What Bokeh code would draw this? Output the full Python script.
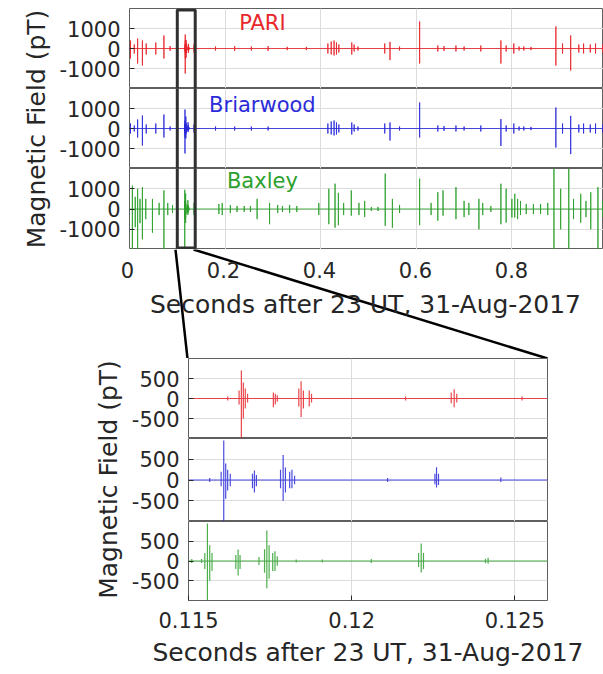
import math
from bokeh.plotting import figure
from bokeh.layouts import column, row
from bokeh.models import FixedTicker, Grid, Label, PolyAnnotation, Range1d
from bokeh.embed import file_html
from bokeh.resources import INLINE

# ---------------- data ----------------
stations = ["PARI", "Briarwood", "Baxley"]
record_span = [0.0, 1.0]

pari_t = [0.002, 0.010, 0.017, 0.027, 0.035, 0.055, 0.072, 0.085,
          0.11620, 0.11655, 0.11662, 0.11668, 0.11674, 0.11681, 0.11760, 0.11766, 0.11772,
          0.11838, 0.11845, 0.11852, 0.11870, 0.11877, 0.12165, 0.12305, 0.12314, 0.12322, 0.12522,
          0.135, 0.180, 0.220, 0.255, 0.290, 0.330, 0.370, 0.415, 0.422, 0.428, 0.433, 0.438,
          0.465, 0.470, 0.478, 0.534, 0.545, 0.565, 0.607, 0.645, 0.658, 0.683, 0.700, 0.735,
          0.777, 0.788, 0.804, 0.815, 0.825, 0.840, 0.892, 0.906, 0.923, 0.940, 0.950, 0.964,
          0.975, 0.990]
pari_up = [400, 200, 500, 400, 250, 300, 650, 120,
           50, 200, 700, 400, 250, 120, 150, 120, 80,
           250, 430, 200, 200, 120, 50, 150, 230, 120, 50,
           200, 100, 120, 100, 120, 80, 80, 250, 350, 400, 300, 200,
           300, 200, 100, 250, 330, 100, 1350, 150, 120, 150, 100, 150,
           400, 150, 250, 100, 100, 80, 1100, 250, 650, 200, 250, 200,
           250, 200]
pari_dn = [500, 250, 750, 850, 300, 300, 500, 120,
           50, 150, 1250, 500, 250, 100, 220, 150, 80,
           200, 460, 250, 200, 100, 50, 120, 220, 100, 50,
           200, 100, 120, 100, 120, 80, 80, 250, 300, 350, 300, 200,
           300, 150, 100, 250, 580, 100, 750, 150, 120, 150, 100, 150,
           750, 150, 250, 100, 100, 80, 850, 250, 1100, 200, 250, 200,
           250, 200]

briar_t = [0.002, 0.010, 0.017, 0.027, 0.035, 0.055, 0.072, 0.085,
           0.11565, 0.11600, 0.11608, 0.11614, 0.11620, 0.11628, 0.11696, 0.11702, 0.11708,
           0.11782, 0.11790, 0.11797, 0.11810, 0.11817, 0.11825, 0.12110, 0.12255, 0.12260,
           0.12266, 0.12457,
           0.135, 0.180, 0.220, 0.255, 0.290, 0.415, 0.422, 0.428, 0.433, 0.438,
           0.465, 0.470, 0.478, 0.534, 0.545, 0.565, 0.607, 0.645, 0.658, 0.683, 0.700, 0.735,
           0.777, 0.788, 0.804, 0.815, 0.825, 0.840, 0.892, 0.906, 0.923, 0.940, 0.950, 0.964,
           0.975, 0.990]
briar_up = [250, 150, 450, 650, 200, 250, 700, 100,
            50, 200, 950, 400, 250, 150, 150, 230, 120,
            250, 600, 300, 200, 250, 100, 50, 150, 310,
            150, 60,
            200, 100, 100, 100, 100, 250, 350, 400, 300, 200,
            300, 200, 100, 250, 300, 100, 1300, 150, 120, 150, 100, 150,
            470, 150, 250, 100, 100, 80, 1050, 250, 630, 200, 250, 200,
            250, 200]
briar_dn = [250, 150, 450, 850, 250, 250, 450, 100,
            50, 150, 1250, 450, 250, 150, 200, 300, 150,
            200, 500, 300, 200, 200, 100, 50, 100, 180,
            120, 50,
            200, 100, 100, 100, 100, 250, 300, 350, 300, 200,
            300, 150, 100, 250, 600, 100, 450, 150, 120, 150, 100, 150,
            870, 150, 250, 100, 100, 80, 950, 250, 1280, 200, 250, 200,
            250, 200]

baxley_t = [0.006, 0.012, 0.017, 0.022, 0.027, 0.034, 0.048, 0.062, 0.072, 0.080, 0.090, 0.100,
            0.11510, 0.11540, 0.11550, 0.11558, 0.11565, 0.11572, 0.11645, 0.11652, 0.11658,
            0.11716, 0.11733, 0.11740, 0.11747, 0.11758, 0.11765, 0.11772, 0.11830, 0.11910,
            0.12060, 0.12205, 0.12213, 0.12220, 0.12410, 0.12418,
            0.135, 0.187, 0.194, 0.211, 0.225, 0.240, 0.253, 0.267, 0.293, 0.310, 0.320, 0.335,
            0.350, 0.396, 0.417, 0.430, 0.437, 0.448, 0.464, 0.480, 0.492, 0.506, 0.520, 0.535,
            0.550, 0.565, 0.607, 0.631, 0.645, 0.656, 0.683, 0.700, 0.710, 0.731, 0.739, 0.756,
            0.777, 0.788, 0.800, 0.806, 0.812, 0.818, 0.830, 0.845, 0.860, 0.875, 0.888, 0.902,
            0.919, 0.929, 0.944, 0.955, 0.965, 0.980, 0.990]
baxley_up = [1150, 600, 1000, 500, 1080, 500, 500, 300, 920, 300, 200, 250,
             50, 50, 200, 950, 400, 200, 150, 290, 150,
             100, 300, 770, 400, 200, 250, 120, 40, 40,
             50, 200, 440, 200, 60, 80,
             300, 250, 300, 200, 150, 150, 150, 500, 300, 200, 150, 200,
             150, 300, 1000, 1250, 800, 300, 920, 300, 400, 100, 100, 1750,
             500, 200, 1500, 300, 830, 920, 1080, 400, 300, 500, 300, 150,
             1250, 1000, 500, 750, 500, 400, 250, 250, 250, 300, 2000, 1000,
             2000, 500, 750, 400, 830, 1080, 400]
baxley_dn = [2000, 900, 2000, 700, 1500, 500, 1170, 300, 2000, 300, 200, 250,
             50, 50, 200, 2000, 500, 250, 200, 370, 200,
             100, 300, 690, 450, 250, 250, 120, 40, 40,
             50, 150, 290, 200, 60, 70,
             300, 250, 300, 200, 150, 150, 150, 500, 750, 200, 150, 200,
             150, 300, 750, 920, 800, 300, 330, 300, 400, 100, 100, 830,
             920, 200, 800, 300, 580, 330, 500, 400, 300, 1000, 300, 150,
             750, 670, 420, 420, 500, 300, 250, 250, 250, 300, 2000, 1000,
             2000, 500, 670, 400, 1000, 2000, 400]

top_xticks = [0, 0.2, 0.4, 0.6, 0.8, 1]
top_xlabels = ["0", "0.2", "0.4", "0.6", "0.8", "1"]
top_yticks = [-1000, 0, 1000]
top_ylabels = ["-1000", "0", "1000"]
zoom_xticks = [0.115, 0.12, 0.125]
zoom_xlabels = ["0.115", "0.12", "0.125"]
zoom_yticks = [-500, 0, 500]
zoom_ylabels = ["-500", "0", "500"]
zoom_window = [0.115, 0.126]
box_window = [0.1, 0.1375]

# ---------------- style / layout ----------------
FONT = "DejaVu Sans"
TXT = "#262626"
GRID = "#dcdcdc"
OUTLINE = "#5f5f5f"
COLORS = ["#e8262b", "#2b2bd9", "#2ca02c"]
XLABEL = "Seconds after 23 UT, 31-Aug-2017"
YLABEL = "Magnetic Field (pT)"
W = 603
TOP_MARGIN = 8

TOP_LABEL_W = 56
TOP_LEFT = 71
TOP_W = W - TOP_LABEL_W
TOP_PX_PER_S = 480.0
top_frame_w = TOP_W - TOP_LEFT
top_frames = [80, 80, 81]
GAP_H = 109                      # connector strip between the two groups
label_y = [1275, 1175, 1375]

Z_LABEL_W = 128
Z_LEFT = 59
Z_W = W - Z_LABEL_W
Z_FRAME_W = 360
Z_RIGHT = Z_W - Z_LEFT - Z_FRAME_W
z_frames = [80, 83, 79]
Z_BOTTOM = 72


def trace(ts, ups, dns):
    ev = sorted(zip(ts, ups, dns))
    xs = [record_span[0]]
    ys = [0]
    for t, u, d in ev:
        xs += [t, t, t, t]
        ys += [0, u, -d, 0]
    xs.append(record_span[1])
    ys.append(0)
    return xs, ys


traces = [trace(pari_t, pari_up, pari_dn),
          trace(briar_t, briar_up, briar_dn),
          trace(baxley_t, baxley_up, baxley_dn)]


def style_axis(ax, ticks, labels, standoff):
    ax.ticker = FixedTicker(ticks=ticks)
    ax.major_label_overrides = dict(zip(ticks, labels))
    ax.major_label_text_font = FONT
    ax.major_label_text_font_size = "21px"
    ax.major_label_text_color = TXT
    ax.major_tick_in = 5
    ax.major_tick_out = 0
    ax.major_tick_line_color = TXT
    ax.axis_line_color = None
    ax.major_label_standoff = standoff


def style_xlabel(xa, standoff):
    xa.axis_label = XLABEL
    xa.axis_label_text_font = FONT
    xa.axis_label_text_font_size = "25px"
    xa.axis_label_text_font_style = "normal"
    xa.axis_label_text_color = TXT
    xa.axis_label_standoff = standoff


def panel(xr, yr, width, frame_h, left, right, top, bottom, xticks, yticks, ylabels, show_x):
    p = figure(width=width, height=frame_h + top + bottom, x_range=xr, y_range=yr,
               output_backend="svg", toolbar_location=None, tools="",
               x_axis_location="below" if show_x else None,
               min_border_left=left, min_border_right=right,
               min_border_top=top, min_border_bottom=bottom)
    p.outline_line_color = OUTLINE
    p.outline_line_width = 1
    p.xgrid.visible = False
    p.ygrid.visible = False
    p.add_layout(Grid(dimension=0, ticker=FixedTicker(ticks=xticks),
                      grid_line_color=GRID), "center")
    p.add_layout(Grid(dimension=1, ticker=FixedTicker(ticks=yticks),
                      grid_line_color=GRID), "center")
    style_axis(p.yaxis[0], yticks, ylabels, 9)
    return p


def ylabel_fig(width, height, frame_top, frame_h, cx):
    f = figure(width=width, height=height, x_range=Range1d(0, width),
               y_range=Range1d(0, height), output_backend="svg",
               toolbar_location=None, tools="", x_axis_location=None,
               y_axis_location=None, min_border=0)
    f.outline_line_color = None
    f.grid.visible = False
    f.add_layout(Label(x=cx, y=height - frame_top - frame_h / 2, text=YLABEL,
                       angle=math.pi / 2, text_align="center", text_baseline="middle",
                       text_font=FONT, text_font_size="25px", text_color=TXT))
    return f


# ---------------- top (full second) ----------------
top_x = Range1d(0, top_frame_w / TOP_PX_PER_S)
top_figs = []
for i in range(3):
    yr = Range1d(-2000, 2000)
    p = panel(top_x, yr, TOP_W, top_frames[i], TOP_LEFT, 0,
              TOP_MARGIN if i == 0 else 0, 0,
              top_xticks, top_yticks, top_ylabels, show_x=False)
    xs, ys = traces[i]
    p.line(xs, ys, line_color=COLORS[i], line_width=1, line_alpha=0.85)
    p.add_layout(Label(x=0.278, y=label_y[i], text=stations[i], text_align="center",
                       text_baseline="middle", text_font=FONT, text_font_size="21px",
                       text_color=COLORS[i]))
    # the zoom box, drawn piecewise through the three stacked panels
    inset = 1.5 * (yr.end - yr.start) / top_frames[i]
    far = 1e5
    if i == 0:
        bys = [-far, yr.end - inset, yr.end - inset, -far]
    elif i == 1:
        bys = [-far, far, far, -far]
    else:
        bys = [far, yr.start + inset, yr.start + inset, far]
    p.add_layout(PolyAnnotation(xs=[box_window[0], box_window[0], box_window[1], box_window[1]],
                                ys=bys, fill_color=None, fill_alpha=0,
                                line_color="#303030", line_alpha=1, line_width=3))
    top_figs.append(p)

# connector strip (full page width): carries the top group's time axis and the
# zoom connector lines, with the same seconds-per-pixel as the panels above.
top_left_page = TOP_LABEL_W + TOP_LEFT
gap_x = Range1d(-top_left_page / TOP_PX_PER_S, top_x.end)
gap = figure(width=W, height=GAP_H, x_range=gap_x, y_range=Range1d(0, 1),
             output_backend="svg", toolbar_location=None, tools="",
             x_axis_location="below", y_axis_location=None, min_border=0)
gap.outline_line_color = None
gap.grid.visible = False
gax = gap.xaxis[0]
style_axis(gax, top_xticks, top_xlabels, 12)
gax.major_tick_in = 0
gax.fixed_location = 1
gax.bounds = (0, top_x.end)
style_xlabel(gax, 9)

zoom_left_page = Z_LABEL_W + Z_LEFT
zl = (zoom_left_page - top_left_page) / TOP_PX_PER_S
zr = (zoom_left_page + Z_FRAME_W - top_left_page) / TOP_PX_PER_S
gap.segment(x0=[box_window[0], box_window[1]], y0=[1, 1], x1=[zl, zr], y1=[0, 0],
            line_color="black", line_width=2.5)

# ---------------- bottom (zoom) ----------------
zoom_x = Range1d(zoom_window[0], zoom_window[1])
zoom_figs = []
for i in range(3):
    p = panel(zoom_x, Range1d(-1000, 1000), Z_W, z_frames[i], Z_LEFT, Z_RIGHT, 0,
              Z_BOTTOM if i == 2 else 0,
              zoom_xticks, zoom_yticks, zoom_ylabels, show_x=(i == 2))
    if i == 2:
        xa = p.xaxis[0]
        style_axis(xa, zoom_xticks, zoom_xlabels, 11)
        style_xlabel(xa, 7)
    xs, ys = traces[i]
    p.line(xs, ys, line_color=COLORS[i], line_width=1.2, line_alpha=0.85)
    zoom_figs.append(p)

top_total = TOP_MARGIN + sum(top_frames)
z_total = sum(z_frames) + Z_BOTTOM
top_lab = ylabel_fig(TOP_LABEL_W, top_total, TOP_MARGIN, sum(top_frames), 36)
z_lab = ylabel_fig(Z_LABEL_W, z_total, 0, sum(z_frames), 108)

layout = column(row(top_lab, column(*top_figs, spacing=0), spacing=0),
                row(gap, spacing=0),
                row(z_lab, column(*zoom_figs, spacing=0), spacing=0),
                spacing=0)
open("out.html", "w").write(file_html(layout, INLINE))
